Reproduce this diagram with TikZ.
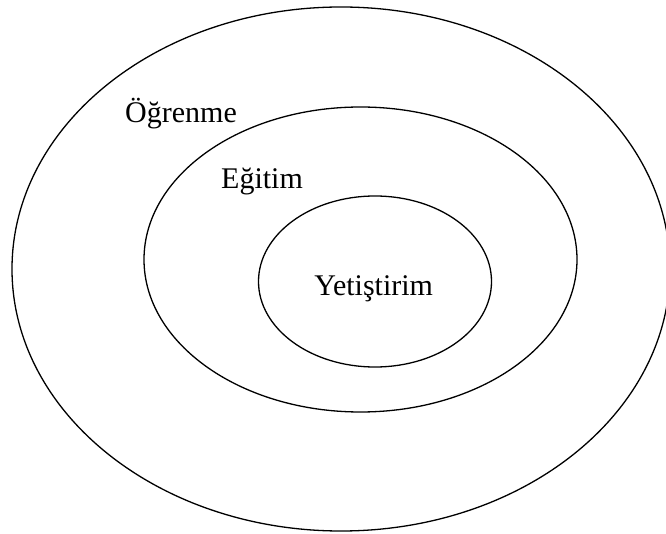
\documentclass[tikz,border=0pt]{standalone}
\usepackage{fontspec}
\setmainfont{Liberation Serif}

\tikzset{
  ring/.style={line width=1.3pt},
  lab/.style={anchor=base, inner sep=0pt, font=\fontsize{30}{36}\selectfont}
}

\begin{document}
\begin{tikzpicture}[x=1pt,y=1pt]

%---------------------------------------
% Canvas
%---------------------------------------
\useasboundingbox (0,0) rectangle (666,533);
\clip (0,0) rectangle (666,533);

%---------------------------------------
% Nested ellipses
%---------------------------------------
\draw[ring] (341,264) ellipse (329 and 262);     % outer
\draw[ring] (360.5,273.5) ellipse (216.5 and 152.5); % middle
\draw[ring] (375,251.5) ellipse (116.5 and 85.5);   % inner

%---------------------------------------
% Labels
%---------------------------------------
\node[lab] (ogrenme) at (181,410.3) {Öğrenme};
\node[lab] (egitim) at (262,344) {Eğitim};
\node[lab] (yetistirim) at (373.7,237) {Yetiştirim};

\end{tikzpicture}
\end{document}
